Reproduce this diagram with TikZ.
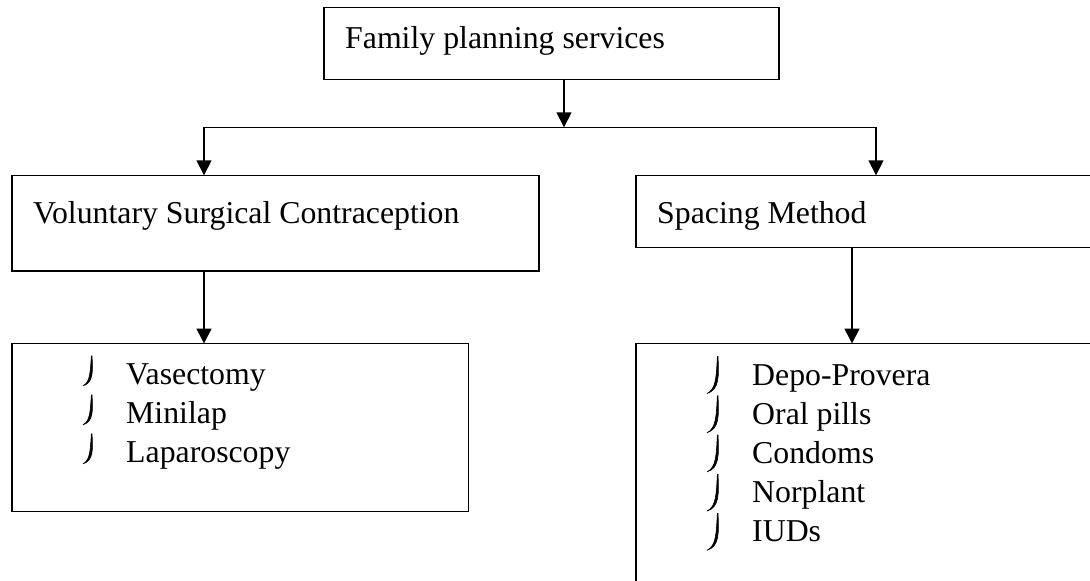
\documentclass[tikz,border=0pt]{standalone}
\usepackage{fontspec}
\setmainfont{Liberation Serif}
\usetikzlibrary{arrows.meta,calc}
\begin{document}
\begin{tikzpicture}[x=1pt,y=-1pt,
  box/.style={draw,line width=1.6pt,rectangle,inner sep=0pt,outer sep=0pt,anchor=north west},
  lbl/.style={anchor=base west,inner sep=0pt,font=\fontsize{31.8}{38}\selectfont},
  conn/.style={line width=1.6pt},
  arr/.style={conn,-{Triangle[length=15pt,width=15pt]}},
  pics/hook/.style 2 args={code={
    \filldraw[line width=0.6pt,line join=round] (0,0) .. controls (1.0,0.55*#1) and (1.2,0.9*#1) .. (-#2,#1)
      .. controls (-1.8,0.88*#1) and (-1.8,0.55*#1) .. (-0.6,0) -- cycle;}}]
\useasboundingbox (0,0) rectangle (1090,581);
\clip (0,0) rectangle (1090,581);
% boxes
\node[box,minimum width=455pt,minimum height=72pt] (fps) at (324,7.3) {};
\node[box,minimum width=527pt,minimum height=95.7pt] (vsc) at (12,175.3) {};
\node[box,minimum width=500pt,minimum height=72.3pt] (sm) at (635.7,175.3) {};
\node[box,minimum width=456.3pt,minimum height=168pt] (ll) at (12,343.5) {};
\node[box,minimum width=500pt,minimum height=306pt] (rl) at (635.7,343.5) {};
% texts
\node[lbl] (t1) at (345,48.3) {Family planning services};
\node[lbl] (t2) at (33,223.5) {Voluntary Surgical Contraception};
\node[lbl] (t3) at (657,223.5) {Spacing Method};
\node[lbl] (l1) at (126,384.3) {Vasectomy};
\node[lbl] (l2) at (126,423.3) {Minilap};
\node[lbl] (l3) at (126,462.3) {Laparoscopy};
\node[lbl] (r1) at (752,385) {Depo-Provera};
\node[lbl] (r2) at (752,424.2) {Oral pills};
\node[lbl] (r3) at (752,463.4) {Condoms};
\node[lbl] (r4) at (752,502.6) {Norplant};
\node[lbl] (r5) at (752,541.8) {IUDs};
% bullets
\foreach \b in {384.3,423.3,462.3} \pic at (92,\b-28.5) {hook={30}{9}};
\foreach \b in {385,424.2,463.4,502.6,541.8} \pic at (718,\b-28.5) {hook={37}{11}};
% connectors
\coordinate (j) at (564,127.3);
\coordinate (jl) at (204,127.3);
\coordinate (jr) at (876,127.3);
\coordinate (kr) at (852,0);
\draw[arr] (fps.south -| j) -- (j);
\draw[conn] (jl) -- (jr);
\draw[arr] (jl) -- (jl |- vsc.north);
\draw[arr] (jr) -- (jr |- sm.north);
\draw[arr] (vsc.south -| jl) -- (jl |- ll.north);
\draw[arr] (sm.south -| kr) -- (kr |- rl.north);
\end{tikzpicture}
\end{document}
